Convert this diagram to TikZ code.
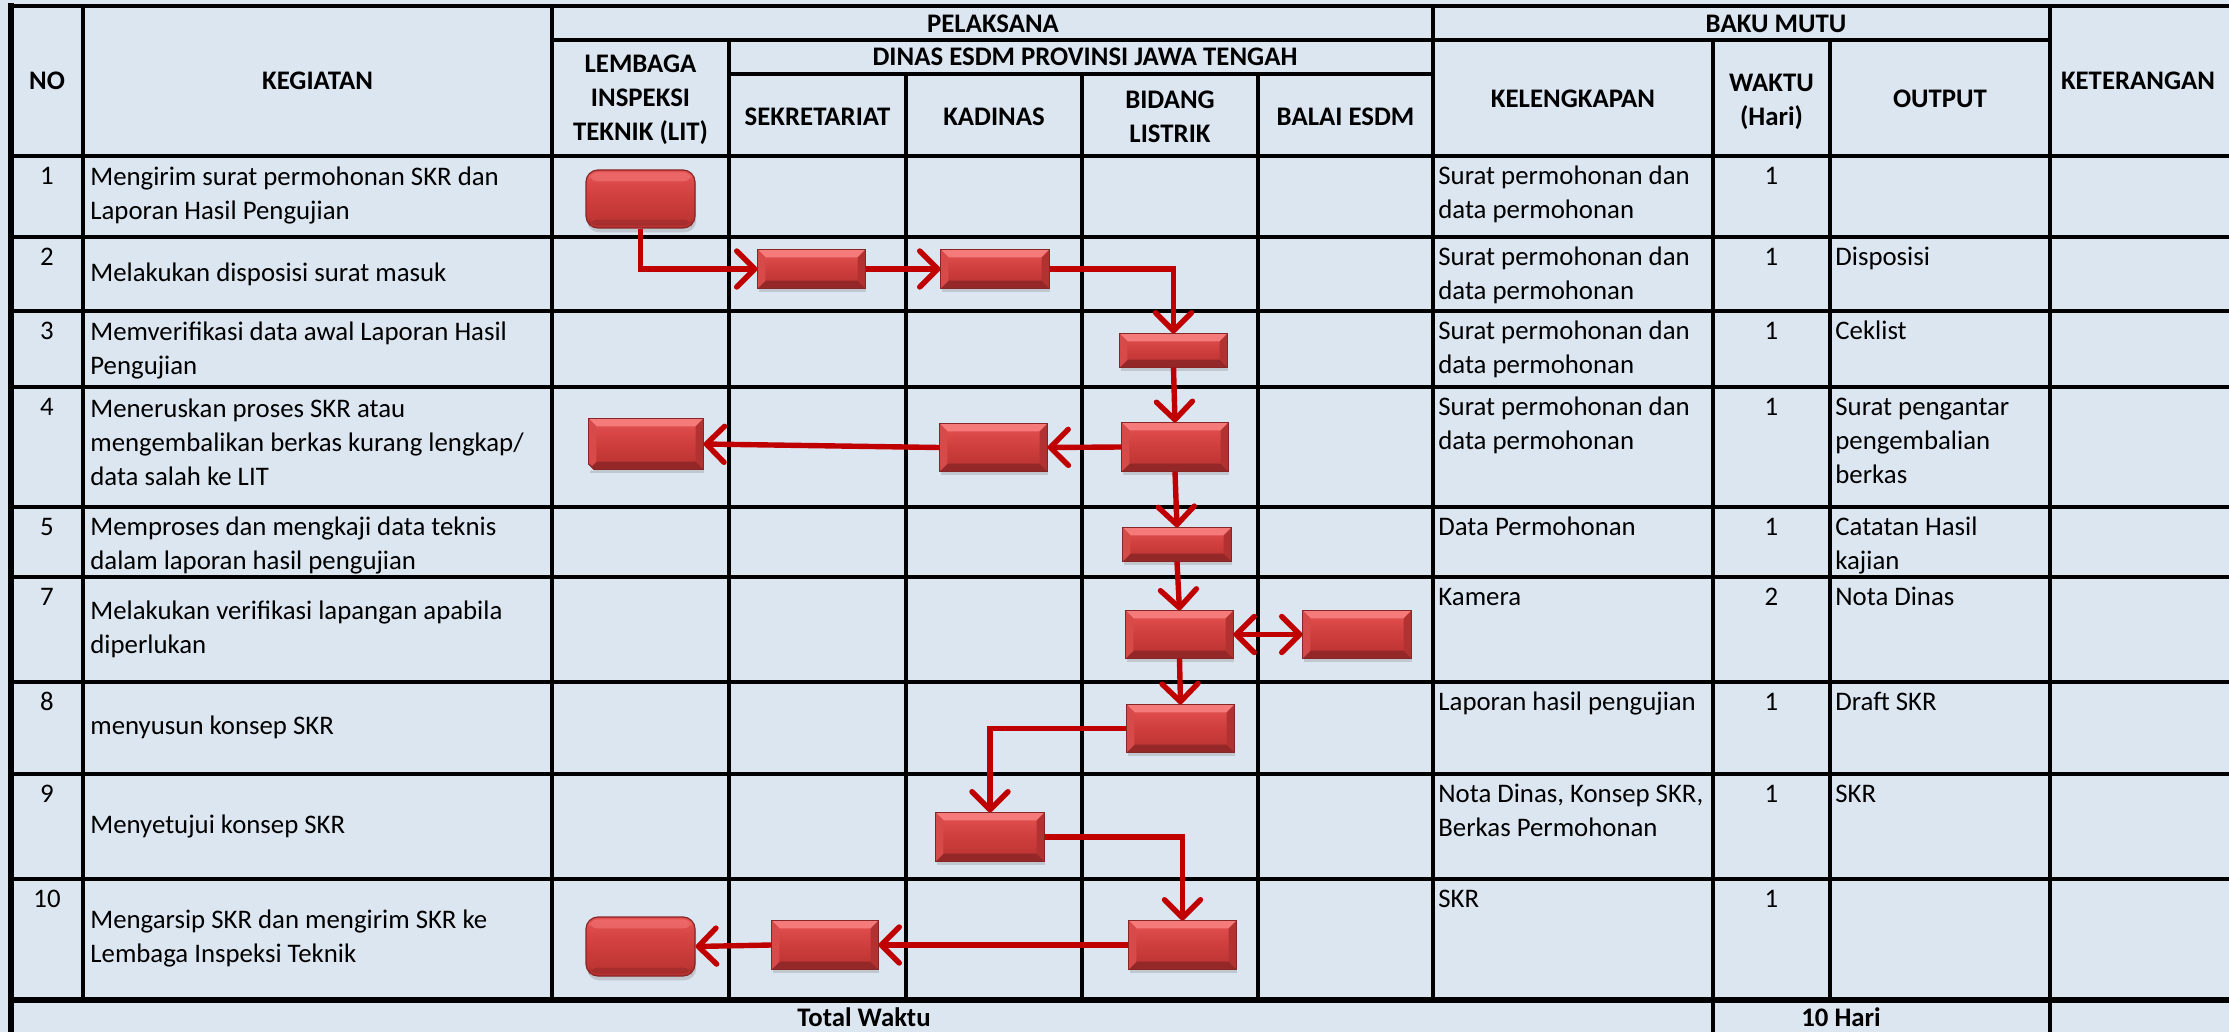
\documentclass[tikz,border=0pt]{standalone}
\usepackage{fontspec}
\setmainfont{Carlito}
\usetikzlibrary{arrows.meta,shadows,calc}

\definecolor{bgc}{RGB}{220,230,241}
\definecolor{arr}{RGB}{192,0,0}
\definecolor{boxtop}{RGB}{228,82,82}
\definecolor{boxmid}{RGB}{206,62,61}
\definecolor{boxbot}{RGB}{184,50,48}
\definecolor{boxedge}{RGB}{135,38,38}
\definecolor{bevtop}{RGB}{245,122,122}
\definecolor{bevbot}{RGB}{148,40,40}
\definecolor{bevleft}{RGB}{214,74,74}
\definecolor{bevright}{RGB}{178,50,50}

\newcommand\fbx[6]{\node[#1, minimum width={(#5-#3)*0.5pt}, minimum height={(#6-#4)*0.5pt}] (#2) at ({(#3+#5)/2},{(#4+#6)/2}) {};}
\newcommand\bev[1]{%
  \fill[bevtop] (#1.north west) -- (#1.north east) -- ([shift={(-8,8)}]#1.north east) -- ([shift={(8,8)}]#1.north west) -- cycle;
  \fill[bevbot] (#1.south west) -- (#1.south east) -- ([shift={(-8,-8)}]#1.south east) -- ([shift={(8,-8)}]#1.south west) -- cycle;
  \fill[bevleft] (#1.north west) -- (#1.south west) -- ([shift={(8,-8)}]#1.south west) -- ([shift={(8,8)}]#1.north west) -- cycle;
  \fill[bevright] (#1.north east) -- (#1.south east) -- ([shift={(-8,-8)}]#1.south east) -- ([shift={(-8,8)}]#1.north east) -- cycle;
  \draw[boxedge, line width=0.6pt] (#1.north west) rectangle (#1.south east);}
\newcommand\txl[4]{\node[txt] (#1) at (#2,{#3-23.8}) {\strut #4};}
\newcommand\txm[4]{\node[txc] (#1) at (#2,{#3-23.8}) {\strut #4};}
\newcommand\hdr[4]{\node[hdc] (#1) at (#2,{#3-23.8}) {\strut #4};}

\begin{document}
\begin{tikzpicture}[x=0.5pt,y=-0.5pt,
  gridline/.style={line width=1.8pt, black, line cap=rect},
  thickline/.style={line width=3pt, black, line cap=rect},
  txt/.style={inner sep=0pt, font=\fontsize{13.4}{17}\selectfont, align=left, anchor=north west},
  txc/.style={inner sep=0pt, font=\fontsize{13.4}{17}\selectfont, align=center, anchor=north},
  hdc/.style={inner sep=0pt, font=\fontsize{13.4}{17}\selectfont\bfseries, align=center, anchor=north},
  flowbox/.style={draw=boxedge, line width=0.6pt, inner sep=0pt, top color=boxtop, bottom color=boxbot, middle color=boxmid,
     drop shadow={shadow xshift=0.6pt, shadow yshift=-2.2pt, opacity=0.3}},
  roundbox/.style={flowbox, rounded corners=6pt},
  flow/.style={draw=arr, line width=2.7pt, -{Straight Barb[length=9pt,width=18pt,round]}},
  flowtwo/.style={draw=arr, line width=2.7pt, {Straight Barb[length=9pt,width=18pt,round]}-{Straight Barb[length=9pt,width=18pt,round]}}
]
\useasboundingbox (0,0) rectangle (2229,1032);
\fill[bgc] (0,0) rectangle (2229,1032);

% ---- grid ----
\draw[gridline] (11,6) -- (2229,6);
\draw[gridline] (552,40) -- (2050,40);
\draw[gridline] (729,74) -- (1433,74);
\foreach \y in {156,237,311,387,507,577,682,774,879} \draw[gridline] (11,\y) -- (2229,\y);
\draw[thickline] (11,1000) -- (2229,1000);
\draw[thickline] (11,6) -- (11,1032);
\foreach \x in {83,552,1433} \draw[gridline] (\x,6) -- (\x,1000);
\draw[gridline] (2050,6) -- (2050,1032);
\draw[gridline] (729,40) -- (729,1000);
\foreach \x in {906,1082,1258} \draw[gridline] (\x,74) -- (\x,1000);
\draw[gridline] (1713,40) -- (1713,1032);
\draw[gridline] (1830,40) -- (1830,1000);

% ---- header ----
\hdr{hNo}{47}{89}{NO}
\hdr{hKeg}{317.5}{89}{KEGIATAN}
\hdr{hPel}{993}{32}{PELAKSANA}
\hdr{hBaku}{1776}{32}{BAKU MUTU}
\hdr{hKet}{2138}{89}{KETERANGAN}
\hdr{hLit}{640.5}{72}{LEMBAGA\\INSPEKSI\\TEKNIK (LIT)}
\hdr{hDinas}{1085}{65}{DINAS ESDM PROVINSI JAWA TENGAH}
\hdr{hSek}{817.5}{125}{SEKRETARIAT}
\hdr{hKad}{994}{125}{KADINAS}
\hdr{hBid}{1170}{108}{BIDANG\\LISTRIK}
\hdr{hBal}{1345.5}{125}{BALAI ESDM}
\hdr{hKel}{1573}{107}{KELENGKAPAN}
\hdr{hWak}{1771.5}{91}{WAKTU\\(Hari)}
\hdr{hOut}{1940}{107}{OUTPUT}
\hdr{hTot}{864}{1026}{Total Waktu}
\hdr{hHari}{1841}{1026}{10 Hari}

% ---- NO ----
\txm{n1}{47}{184}{1}
\txm{n2}{47}{265}{2}
\txm{n3}{47}{339}{3}
\txm{n4}{47}{415}{4}
\txm{n5}{47}{535}{5}
\txm{n7}{47}{605}{7}
\txm{n8}{47}{710}{8}
\txm{n9}{47}{802}{9}
\txm{n10}{47}{907}{10}

% ---- KEGIATAN ----
\txl{k1}{90}{185}{Mengirim surat permohonan SKR dan\\Laporan Hasil Pengujian}
\txl{k2}{90}{281}{Melakukan disposisi surat masuk}
\txl{k3}{90}{340}{Memverifikasi data awal Laporan Hasil\\Pengujian}
\txl{k4}{90}{417}{Meneruskan proses SKR atau\\mengembalikan berkas kurang lengkap/\\data salah ke LIT}
\txl{k5}{90}{535}{Memproses dan mengkaji data teknis\\dalam laporan hasil pengujian}
\txl{k7}{90}{619}{Melakukan verifikasi lapangan apabila\\diperlukan}
\txl{k8}{90}{734}{menyusun konsep SKR}
\txl{k9}{90}{833}{Menyetujui konsep SKR}
\txl{k10}{90}{928}{Mengarsip SKR dan mengirim SKR ke\\Lembaga Inspeksi Teknik}

% ---- KELENGKAPAN ----
\txl{l1}{1438}{184}{Surat permohonan dan\\data permohonan}
\txl{l2}{1438}{265}{Surat permohonan dan\\data permohonan}
\txl{l3}{1438}{339}{Surat permohonan dan\\data permohonan}
\txl{l4}{1438}{415}{Surat permohonan dan\\data permohonan}
\txl{l5}{1438}{535}{Data Permohonan}
\txl{l7}{1438}{605}{Kamera}
\txl{l8}{1438}{710}{Laporan hasil pengujian}
\txl{l9}{1438}{802}{Nota Dinas, Konsep SKR,\\Berkas Permohonan}
\txl{l10}{1438}{907}{SKR}

% ---- WAKTU ----
\txm{w1}{1771.5}{184}{1}
\txm{w2}{1771.5}{265}{1}
\txm{w3}{1771.5}{339}{1}
\txm{w4}{1771.5}{415}{1}
\txm{w5}{1771.5}{535}{1}
\txm{w7}{1771.5}{605}{2}
\txm{w8}{1771.5}{710}{1}
\txm{w9}{1771.5}{802}{1}
\txm{w10}{1771.5}{907}{1}

% ---- OUTPUT ----
\txl{o2}{1835}{265}{Disposisi}
\txl{o3}{1835}{339}{Ceklist}
\txl{o4}{1835}{415}{Surat pengantar\\pengembalian\\berkas}
\txl{o5}{1835}{535}{Catatan Hasil\\kajian}
\txl{o7}{1835}{605}{Nota Dinas}
\txl{o8}{1835}{710}{Draft SKR}
\txl{o9}{1835}{802}{SKR}

% ---- flow boxes ----
\fbx{roundbox}{B1}{586}{170}{695}{228}
\fbx{flowbox}{B2}{758}{250}{865}{288}
\fbx{flowbox}{B3}{941}{250}{1049}{288}
\fbx{flowbox}{B4}{1120}{334}{1227}{367}
\fbx{flowbox}{B5}{1122}{423}{1228}{471}
\fbx{flowbox}{B6}{940}{424}{1047}{471}
\fbx{flowbox}{B7}{589}{419}{703}{469}
\fbx{flowbox}{B8}{1123}{528}{1231}{561}
\fbx{flowbox}{B9}{1126}{611}{1233}{658}
\fbx{flowbox}{B10}{1303}{611}{1411}{658}
\fbx{flowbox}{B11}{1127}{705}{1234}{752}
\fbx{flowbox}{B12}{936}{813}{1044}{861}
\fbx{flowbox}{B13}{1129}{921}{1236}{969}
\fbx{flowbox}{B14}{772}{921}{878}{969}
\fbx{roundbox}{B15}{586}{917}{695}{976}

\foreach \b in {B2,B3,B4,B5,B6,B7,B8,B9,B10,B11,B12,B13,B14} {\bev{\b}}
% snipped corner of B7
\fill[bgc] ([shift={(-1,1)}]B7.south west) -- ([shift={(-1,-6)}]B7.south west) -- ([shift={(6,1)}]B7.south west) -- cycle;
\draw[boxedge, line width=0.6pt] ([shift={(0,-6)}]B7.south west) -- ([shift={(6,0)}]B7.south west);
% gloss on rounded boxes
\foreach \b in {B1,B15} {
  \fill[bevtop, opacity=0.55, rounded corners=4pt] ([shift={(4,3)}]\b.north west) rectangle ([shift={(-4,12)}]\b.north east);
  \fill[bevbot, opacity=0.5, rounded corners=4pt] ([shift={(4,-3)}]\b.south west) rectangle ([shift={(-4,-9)}]\b.south east);
}

% ---- connectors ----
\draw[flow] (B1.south) |- (B2.west);
\draw[flow] (B2.east) -- (B3.west);
\draw[flow] (B3.east) -| (B4.north);
\draw[flow] (B4.south) -- (B5.north);
\draw[flow] (B5.west) -- (B6.east);
\draw[flow] (B6.west) -- (B7.east);
\draw[flow] (B5.south) -- (B8.north);
\draw[flow] (B8.south) -- (B9.north);
\draw[flowtwo] (B9.east) -- (B10.west);
\draw[flow] (B9.south) -- (B11.north);
\draw[flow] (B11.west) -| (B12.north);
\draw[flow] (B12.east) -| (B13.north);
\draw[flow] (B13.west) -- (B14.east);
\draw[flow] (B14.west) -- (B15.east);
\end{tikzpicture}
\end{document}
